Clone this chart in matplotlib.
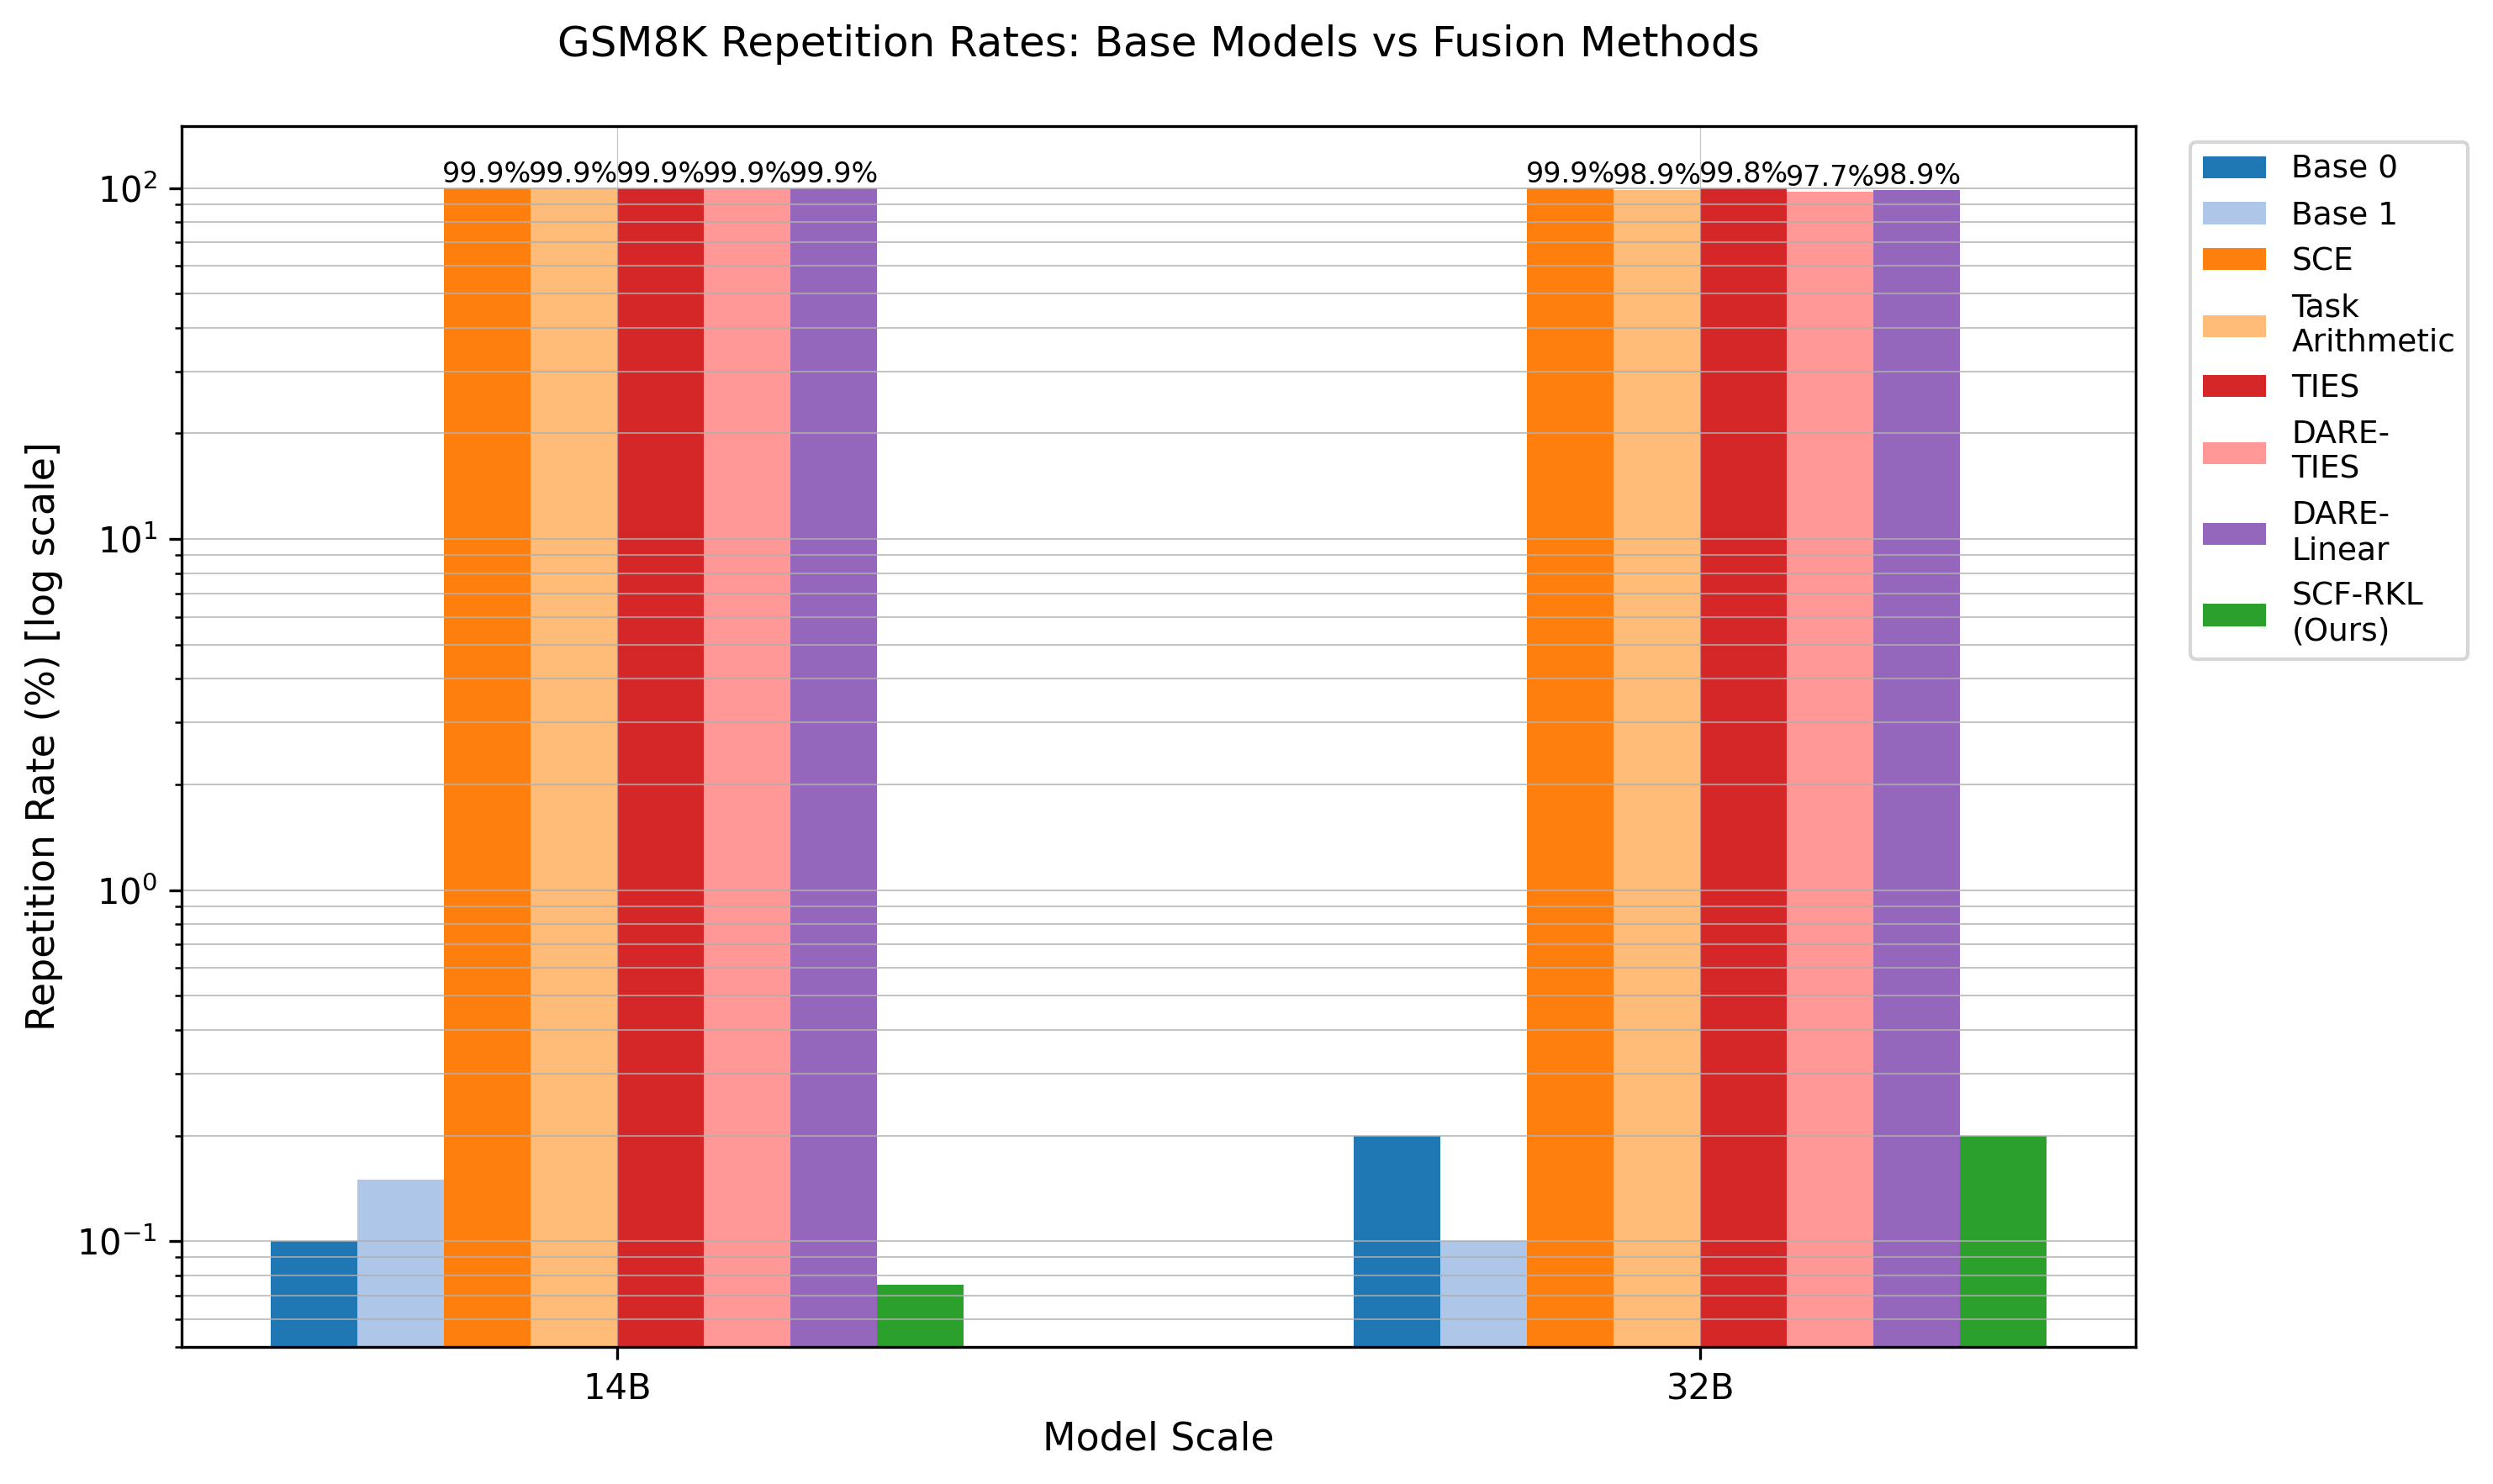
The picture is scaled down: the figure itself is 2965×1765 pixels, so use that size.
import numpy as np
import matplotlib
matplotlib.use("Agg")
import matplotlib.pyplot as plt

# data
scales = ["14B", "32B"]
methods = ["Base 0", "Base 1", "SCE", "Task\nArithmetic", "TIES",
           "DARE-\nTIES", "DARE-\nLinear", "SCF-RKL\n(Ours)"]
base0 = [0.1, 0.2]
base1 = [0.15, 0.1]
sce = [99.9, 99.9]
task_arith = [99.9, 98.9]
ties = [99.9, 99.8]
dare_ties = [99.9, 97.7]
dare_linear = [99.9, 98.9]
scf_rkl = [0.075, 0.2]

colors = ["#1f77b4", "#aec7e8", "#ff7f0e", "#ffbb78", "#d62728",
          "#ff9896", "#9467bd", "#2ca02c"]


def main():
    series = [base0, base1, sce, task_arith, ties, dare_ties, dare_linear, scf_rkl]
    n = len(series)
    width = 0.08
    x = np.arange(len(scales))

    fig = plt.figure(figsize=(2965 / 300, 1765 / 300), dpi=300)
    ax = fig.add_axes([0.0729, 0.0924, 0.7838, 0.8226])

    for i, (vals, label, col) in enumerate(zip(series, methods, colors)):
        pos = x + (i - (n - 1) / 2) * width
        bars = ax.bar(pos, vals, width, label=label, color=col)
        for b, v in zip(bars, vals):
            if v > 50:
                ax.text(b.get_x() + b.get_width() / 2, v, f"{v:.1f}%",
                        ha="center", va="bottom", fontsize=8)

    ax.set_yscale("log")
    ax.set_ylim(0.05, 150)
    ax.set_xticks(x)
    ax.set_xticklabels(scales, fontsize=10)
    ax.tick_params(axis="y", labelsize=10)
    ax.set_xlabel("Model Scale", fontsize=11)
    ax.set_ylabel("Repetition Rate (%) [log scale]", fontsize=11)
    ax.set_title("GSM8K Repetition Rates: Base Models vs Fusion Methods",
                 fontsize=12, pad=20)

    ax.yaxis.grid(True, which="both", color="#b0b0b0", alpha=0.75, linewidth=0.5)
    ax.xaxis.grid(True, color="#b0b0b0", alpha=0.7, linewidth=0.3)

    ax.legend(loc="upper left", bbox_to_anchor=(1.02, 1), fontsize=9)

    fig.savefig("out.png", dpi=300)
    plt.close(fig)


if __name__ == "__main__":
    main()
